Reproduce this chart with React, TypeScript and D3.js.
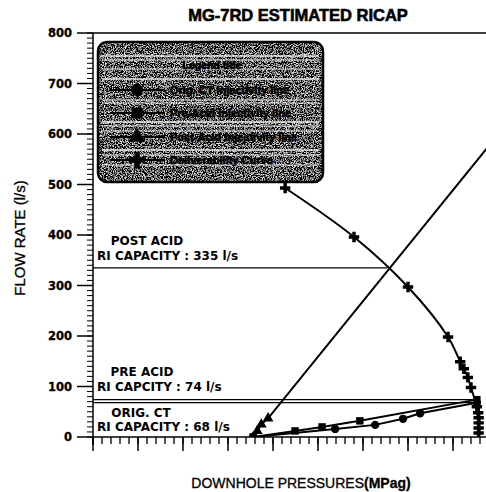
import React from 'react';
import * as d3 from 'd3';

const chartTitle = 'MG-7RD ESTIMATED RICAP';
const xTitle = 'DOWNHOLE PRESSURES';
const xTitleUnit = '(MPag)';
const yTitle = 'FLOW RATE  (l/s)';
const yTickValues = [0, 100, 200, 300, 400, 500, 600, 700, 800];

// pressure (MPag) vs flow (l/s)
const deliverabilityP = [4.27, 5.8, 7.0, 7.89, 8.16, 8.24, 8.33, 8.4, 8.53, 8.56, 8.57, 8.57, 8.57, 8.57];
const deliverabilityQ = [493, 396, 297, 198, 149, 135, 118, 98, 60, 48, 38, 28, 18, 8];

const postAcidP = [3.56, 3.65, 3.74, 3.89, 9.0];
const postAcidQ = [0, 12, 25, 37, 599];

const preAcidP = [3.56, 4.49, 5.09, 5.93, 8.53];
const preAcidQ = [0, 12, 20, 32, 74];

const origCtP = [3.56, 5.38, 6.27, 6.89, 7.27, 8.53];
const origCtQ = [0, 16, 24, 36, 47, 68];

const capacityLines = [
  { title: 'POST ACID', text: 'RI CAPACITY : 335 l/s', q: 335 },
  { title: 'PRE ACID', text: 'RI CAPCITY : 74 l/s', q: 74 },
  { title: 'ORIG. CT', text: 'RI CAPACITY : 68 l/s', q: 68 },
];

const legendTitle = 'Legend title';
const legendLabels = [
  'Orig. CT Injectivity line',
  'Pre-Acid Injectivity line',
  'Post-Acid Injectivity line',
  'Deliverability Curve',
];

const W = 486;
const H = 492;
const left = 93;
const top = 33;
const bottom = 437;

const x = d3.scaleLinear().domain([0, 9]).range([left, left + 45 * 9]);
const y = d3.scaleLinear().domain([0, 800]).range([bottom, top]);

const zip = (ps: number[], qs: number[]) => ps.map((p, i) => ({ p, q: qs[i] }));
const deliv = zip(deliverabilityP, deliverabilityQ);
const post = zip(postAcidP, postAcidQ);
const pre = zip(preAcidP, preAcidQ);
const orig = zip(origCtP, origCtQ);

const lineGen = d3
  .line<{ p: number; q: number }>()
  .x((d) => x(d.p))
  .y((d) => y(d.q));
const curveGen = d3
  .line<{ p: number; q: number }>()
  .x((d) => x(d.p))
  .y((d) => y(d.q))
  .curve(d3.curveCatmullRom.alpha(0.5));

// pressure on the deliverability curve at a given flow
function delivAt(q: number) {
  for (let i = 0; i < deliv.length - 1; i++) {
    const a = deliv[i];
    const b = deliv[i + 1];
    if ((a.q - q) * (b.q - q) <= 0) {
      const t = (a.q - q) / (a.q - b.q);
      return a.p + t * (b.p - a.p);
    }
  }
  return deliv[deliv.length - 1].p;
}

const sym = (type: d3.SymbolType, size: number) => d3.symbol().type(type).size(size)() as string;

const series = [
  { data: orig, type: d3.symbolCircle, size: 55 },
  { data: pre, type: d3.symbolSquare, size: 55 },
  { data: post, type: d3.symbolTriangle, size: 50 },
  { data: deliv, type: d3.symbolCross, size: 60 },
];

export default function App() {
  const yMinor = d3.range(0, 801, 10);
  const xMinor = d3.range(0, 9.01, 0.2);
  const xMajor = d3.range(0, 10, 1);
  const lg = { x0: 98, y0: 42, x1: 323, y1: 182 };
  const rowY = [65, 90, 113, 137, 160];
  const streaks = [56, 60, 69, 79, 100, 103, 122, 126, 131, 150, 155, 165];
  const font = '"Liberation Sans", Arial, sans-serif';
  const boldFont = '"DejaVu Sans", sans-serif';
  return (
    <svg
      width={W}
      height={H}
      style={{ position: 'absolute', left: 0, top: 0, background: '#fff' }}
    >
      <defs>
        <filter id="noise" x="0" y="0" width="100%" height="100%">
          <feTurbulence type="fractalNoise" baseFrequency="0.9" numOctaves="2" seed="4" result="t" />
          <feColorMatrix
            in="t"
            type="matrix"
            values="0.33 0.33 0.33 0 0 0.33 0.33 0.33 0 0 0.33 0.33 0.33 0 0 0 0 0 0 1"
            result="g"
          />
          <feComponentTransfer in="g" result="b">
            <feFuncR type="linear" slope="5" intercept="-2.35" />
            <feFuncG type="linear" slope="5" intercept="-2.35" />
            <feFuncB type="linear" slope="5" intercept="-2.35" />
          </feComponentTransfer>
          <feComposite in="b" in2="SourceGraphic" operator="in" />
        </filter>
        <clipPath id="plot">
          <rect x={left} y={top} width={W - left} height={bottom - top} />
        </clipPath>
      </defs>

      {/* title */}
      <text
        x={298}
        y={21}
        textAnchor="middle"
        fontFamily={font}
        fontWeight="bold"
        fontSize={16.5}
        fill="#000"
        stroke="#000"
        strokeWidth={0.6}
      >
        {chartTitle}
      </text>

      {/* frame */}
      <line x1={left} x2={W} y1={top} y2={top} stroke="#000" strokeWidth={1.5} />
      <line x1={left} x2={left} y1={top} y2={bottom + 8} stroke="#000" strokeWidth={1.5} />
      <line x1={left} x2={W} y1={bottom} y2={bottom} stroke="#000" strokeWidth={1.5} />

      {/* y ticks */}
      {yMinor.map((v) => (
        <line key={'ym' + v} x1={left - 6} x2={left} y1={y(v)} y2={y(v)} stroke="#000" strokeWidth={1} />
      ))}
      {yTickValues.map((v) => (
        <g key={'yt' + v}>
          <line x1={left - 16} x2={left} y1={y(v)} y2={y(v)} stroke="#000" strokeWidth={1.5} />
          <text
            x={72}
            y={y(v) + 4}
            textAnchor="end"
            fontFamily={boldFont}
            fontWeight="bold"
            fontSize={11.5}
            fill="#000"
            stroke="#000"
            strokeWidth={0.3}
          >
            {v}
          </text>
        </g>
      ))}

      {/* x ticks */}
      {xMinor.map((v) => (
        <line key={'xm' + v} x1={x(v)} x2={x(v)} y1={bottom} y2={bottom + 7} stroke="#000" strokeWidth={1.3} />
      ))}
      {xMajor.map((v) => (
        <line key={'xM' + v} x1={x(v)} x2={x(v)} y1={bottom} y2={bottom + 14} stroke="#000" strokeWidth={1.5} />
      ))}

      {/* axis titles */}
      <text
        x={301}
        y={488}
        textAnchor="middle"
        fontFamily={font}
        fontSize={14}
        fill="#000"
        stroke="#000"
        strokeWidth={0.3}
      >
        {xTitle}
        <tspan fontWeight="bold">{xTitleUnit}</tspan>
      </text>
      <text
        transform="translate(25,238) rotate(-90)"
        textAnchor="middle"
        fontFamily={font}
        fontSize={15}
        fill="#000"
        stroke="#000"
        strokeWidth={0.3}
      >
        {yTitle}
      </text>

      {/* capacity lines */}
      {capacityLines.map((c) => (
        <line
          key={'cl' + c.q}
          x1={left}
          x2={x(delivAt(c.q))}
          y1={y(c.q)}
          y2={y(c.q)}
          stroke="#000"
          strokeWidth={1.4}
        />
      ))}

      <g clipPath="url(#plot)">
        {series.map((s, i) => (
          <path
            key={'l' + i}
            d={(i === 3 ? curveGen(s.data) : lineGen(s.data)) as string}
            fill="none"
            stroke="#000"
            strokeWidth={2}
          />
        ))}
        {series.map((s, i) =>
          s.data.map((d, j) => (
            <path
              key={'m' + i + '-' + j}
              d={sym(s.type, s.size)}
              transform={`translate(${x(d.p)},${y(d.q)})`}
              fill="#000"
            />
          ))
        )}
      </g>

      {/* capacity labels */}
      <g fontFamily={boldFont} fontWeight="bold" fontSize={12} fill="#000">
        <text x={147} y={245} textAnchor="middle">{capacityLines[0].title}</text>
        <text x={97} y={260}>{capacityLines[0].text}</text>
        <text x={142} y={376} textAnchor="middle">{capacityLines[1].title}</text>
        <text x={97} y={391}>{capacityLines[1].text}</text>
        <text x={141} y={417} textAnchor="middle">{capacityLines[2].title}</text>
        <text x={97} y={431}>{capacityLines[2].text}</text>
      </g>

      {/* legend */}
      <g>
        <rect
          x={lg.x0}
          y={lg.y0}
          width={lg.x1 - lg.x0}
          height={lg.y1 - lg.y0}
          rx={9}
          fill="#000"
          filter="url(#noise)"
        />
        {streaks.map((sy, i) => (
          <line
            key={'s' + i}
            x1={lg.x0 + 4}
            x2={lg.x1 - 4}
            y1={sy}
            y2={sy}
            stroke="#fff"
            strokeWidth={i % 3 === 0 ? 1.5 : 1}
            opacity={0.85}
          />
        ))}
        <rect
          x={lg.x0}
          y={lg.y0}
          width={lg.x1 - lg.x0}
          height={lg.y1 - lg.y0}
          rx={9}
          fill="none"
          stroke="#000"
          strokeWidth={2.5}
        />
        <text
          x={212}
          y={rowY[0] + 4}
          textAnchor="middle"
          fontFamily={font}
          fontWeight="bold"
          fontSize={10.5}
          fill="#000"
          stroke="#000"
          strokeWidth={0.6}
        >
          {legendTitle}
        </text>
        {legendLabels.map((label, i) => (
          <g key={'lg' + i}>
            <line x1={110} x2={165} y1={rowY[i + 1]} y2={rowY[i + 1]} stroke="#000" strokeWidth={2} />
            <path
              d={sym(series[i].type, i === 3 ? 150 : 120)}
              transform={`translate(137,${rowY[i + 1]})`}
              fill="#000"
            />
            <text
              x={170}
              y={rowY[i + 1] + 4}
              fontFamily={font}
              fontWeight="bold"
              fontSize={11}
              fill="#000"
              stroke="#000"
              strokeWidth={0.6}
            >
              {label}
            </text>
          </g>
        ))}
      </g>
    </svg>
  );
}
